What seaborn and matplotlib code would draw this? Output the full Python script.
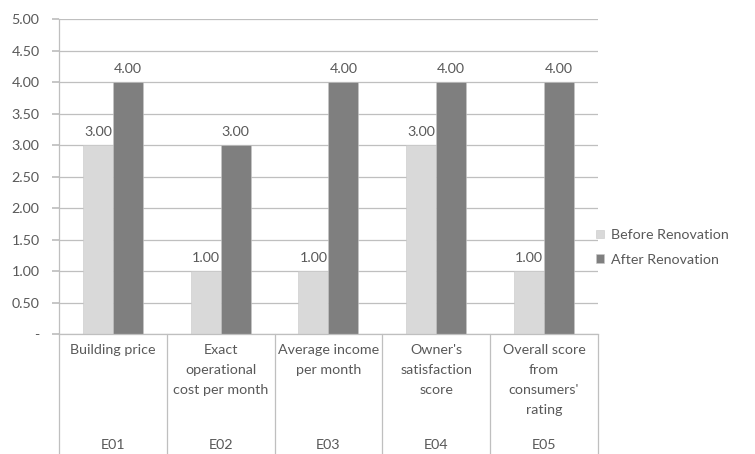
import pandas as pd
import numpy as np
import matplotlib.pyplot as plt
import seaborn as sns

# Dados do gráfico
codigos = ["E01", "E02", "E03", "E04", "E05"]
descricoes = [
    "Building price",
    "Exact\noperational\ncost per month",
    "Average income\nper month",
    "Owner's\nsatisfaction\nscore",
    "Overall score\nfrom\nconsumers'\nrating",
]
antes = [3.00, 1.00, 1.00, 3.00, 1.00]
depois = [4.00, 3.00, 4.00, 4.00, 4.00]
series = ["Before Renovation", "After Renovation"]
cores = ["#d9d9d9", "#7f7f7f"]
ticks_y = [0, 0.5, 1.0, 1.5, 2.0, 2.5, 3.0, 3.5, 4.0, 4.5, 5.0]

df = pd.DataFrame({
    "codigo": codigos * 2,
    "valor": antes + depois,
    "serie": [series[0]] * len(codigos) + [series[1]] * len(codigos),
})

sns.set_theme(style="white")
plt.rcParams["font.family"] = ["Lato", "DejaVu Sans"]
cor_texto = "#595959"
cor_linha = "#bfbfbf"
fs = 10.3

fig = plt.figure(figsize=(7.55, 4.54), dpi=100)
ax = fig.add_axes([0.0781, 0.2643, 0.792 - 0.0781, 0.958 - 0.2643])

sns.barplot(data=df, x="codigo", y="valor", hue="serie", hue_order=series,
            palette=cores, width=0.556, gap=0, ax=ax, legend=True,
            edgecolor="#c8c8c8", linewidth=0.4)

# Rótulos dos valores
for cont in ax.containers:
    ax.bar_label(cont, fmt="%.2f", padding=5, fontsize=fs, color=cor_texto)

ax.set_ylim(0, 5)
ax.set_xlim(-0.5, len(codigos) - 0.5)
ax.set_yticks(ticks_y)
ax.set_yticklabels(["-"] + [f"{v:.2f}" for v in ticks_y[1:]])
ax.yaxis.grid(True, color=cor_linha, linewidth=0.9)
ax.set_axisbelow(True)
ax.tick_params(axis="y", left=True, length=5, color=cor_linha, labelsize=fs,
               labelcolor=cor_texto, pad=9)
ax.set_xticks([])
ax.set_xlabel("")
ax.set_ylabel("")
for lado in ["top", "right"]:
    ax.spines[lado].set_visible(False)
for lado in ["left", "bottom"]:
    ax.spines[lado].set_color(cor_linha)
    ax.spines[lado].set_linewidth(0.9)

# Eixo de categorias em dois níveis (estilo Excel)
trans = ax.get_xaxis_transform()
for i in range(len(codigos) + 1):
    ax.plot([i - 0.5, i - 0.5], [0, -0.385], transform=trans, color=cor_linha,
            linewidth=0.9, clip_on=False)
for i, (cod, desc) in enumerate(zip(codigos, descricoes)):
    ax.text(i, -0.032, desc, transform=trans, ha="center", va="top",
            fontsize=fs, color=cor_texto, linespacing=1.8)
    ax.text(i, -0.352, cod, transform=trans, ha="center", va="center",
            fontsize=fs, color=cor_texto)

# Legenda
ax.legend(title=None, frameon=False, loc="center left",
          bbox_to_anchor=(0.772, 0.455), bbox_transform=fig.transFigure,
          fontsize=fs, handlelength=0.55, handleheight=0.55, handletextpad=0.5,
          labelspacing=0.9, labelcolor=cor_texto)

plt.savefig("out.png", dpi=100)
plt.close()
